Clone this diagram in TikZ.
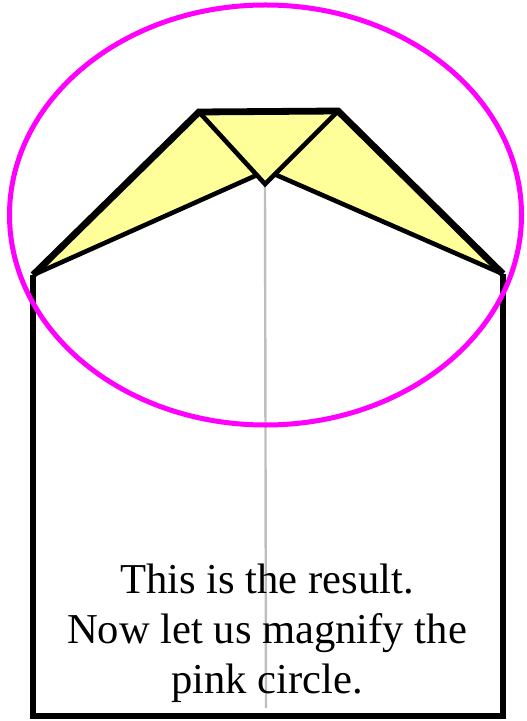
\documentclass[tikz,border=0pt]{standalone}
\usepackage{fontspec}
\setmainfont{Liberation Serif}
\usetikzlibrary{positioning}
\definecolor{mymagenta}{RGB}{255,0,255}
\definecolor{myyellow}{RGB}{255,255,153}
\definecolor{mygray}{RGB}{190,190,190}
\tikzset{
  roof/.style={line width=3.4pt, line join=miter},
  fold/.style={line width=2.3pt, line join=miter},
  wall/.style={line width=2.8pt, line join=miter},
  crease/.style={line width=1.2pt, color=mygray},
  caption/.style={align=center, inner sep=0pt, font=\fontsize{21.3}{25}\selectfont}
}
\begin{document}
\begin{tikzpicture}[x=0.5pt, y=-0.5pt]
    \useasboundingbox (0,0) rectangle (526,721);
    % corners of the sheet
    \coordinate (bl) at (33,716);
    \coordinate (br) at (503,716);
    \coordinate (l) at (33,275);
    \coordinate (r) at (503,274);
    \coordinate (tl) at (199,112);
    \coordinate (tr) at (338,111);
    \coordinate (c) at (265,184);
    \coordinate (lm) at (257,175);
    \coordinate (rm) at (274,174);
    \coordinate (cb) at (266,708);
    % folded flaps
    \fill[myyellow] (l) -- (tl) -- (tr) -- (r) -- (rm) -- (c) -- (lm) -- cycle;
    \draw[crease] (c) -- (cb);
    \draw[wall] (l) -- (bl) -- (br) -- (r);
    \draw[fold] (tl) -- (c) -- (tr);
    \draw[fold] (l) -- (lm);
    \draw[fold] (r) -- (rm);
    \draw[roof] (l) -- (tl) -- (tr) -- (r);
    % the pink circle
    \draw[mymagenta, line width=2.5pt] (265.5,215) ellipse [x radius=256, y radius=210];
    \node[caption] (txt) at (267,633) {This is the result.\\Now let us magnify the\\pink circle.};
\end{tikzpicture}
\end{document}
